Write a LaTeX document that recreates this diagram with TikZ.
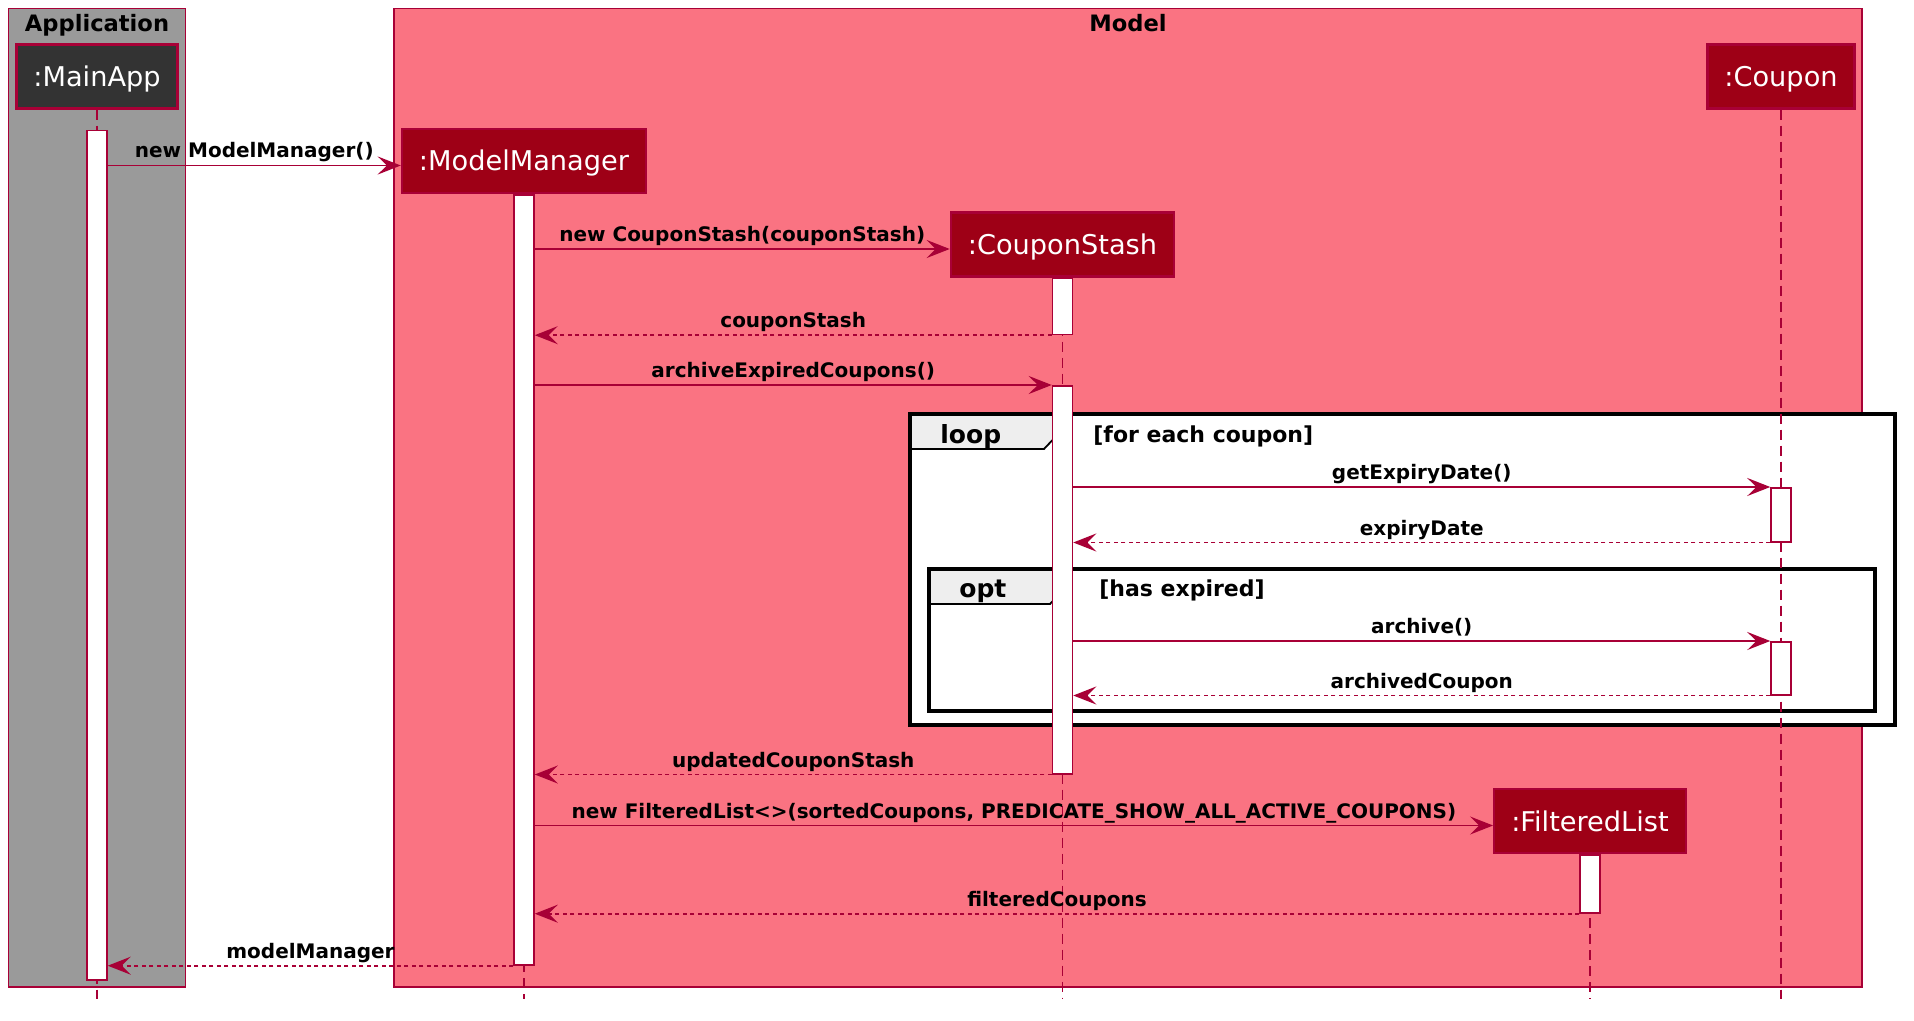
\documentclass[tikz,border=0pt]{standalone}
\usepackage{fontspec}
\setmainfont{DejaVu Sans}
\usetikzlibrary{arrows.meta,positioning}
\definecolor{crimson}{HTML}{A80036}
\definecolor{headred}{HTML}{9E0016}
\definecolor{modelpink}{HTML}{FA7382}
\definecolor{appgrey}{HTML}{9A9A9A}
\definecolor{tabgrey}{HTML}{EEEEEE}
\definecolor{mainhead}{HTML}{333333}

\begin{document}
\begin{tikzpicture}[x=0.5pt,y=-0.5pt,
  head/.style={draw=crimson,fill=headred,text=white,line width=1.2pt,
    font=\fontsize{13.6}{16}\selectfont,text height=1.1em,text depth=0.1em,
    inner xsep=8.5pt,minimum height=32pt},
  bar/.style={draw=crimson,fill=white,line width=0.75pt,minimum width=10pt,inner sep=0pt},
  life/.style={crimson,line width=0.75pt,dash pattern=on 5pt off 3pt},
  msg/.style={crimson,line width=0.9pt,-{Stealth[length=11.5pt,width=9pt,inset=4.5pt]}},
  ret/.style={msg,dash pattern=on 2pt off 1.75pt},
  lbl/.style={text=black,font=\bfseries\fontsize{10}{12}\selectfont,anchor=base,yshift=3.75pt,inner sep=0pt},
  boxttl/.style={font=\bfseries\fontsize{11.3}{13}\selectfont,anchor=base,inner sep=0pt},
  frame/.style={draw=black,line width=1.75pt},
  tab/.style={draw=black,fill=tabgrey,line width=0.9pt},
  grp/.style={font=\bfseries\fontsize{12.5}{15}\selectfont,anchor=base west,inner sep=0pt},
  guard/.style={font=\bfseries\fontsize{11}{13}\selectfont,anchor=base west,inner sep=0pt}]
\useasboundingbox (0,0) rectangle (1914,1021);
\coordinate (bottom) at (0,999);
% Boxes
\draw[crimson,fill=appgrey,line width=0.75pt] (8.5,8.5) rectangle (185.5,987);
\draw[crimson,fill=modelpink,line width=0.75pt] (394,8.5) rectangle (1862,987);
\node[boxttl] (appTtl) at (97,32) {Application};
\node[boxttl] (modelTtl) at (1128,32) {Model};
% Loop frame
\fill[white] (910,414) rectangle (1895,725);
\draw[tab] (910,414) -- (1062,414) -- (1062,430) -- (1044,449) -- (910,449) -- cycle;
\draw[frame] (910,414) rectangle (1895,725);
\node[grp] (loopTxt) at (940,443) {loop};
\node[guard] (loopGuard) at (1093,442) {[for each coupon]};
% Opt frame
\draw[tab] (929,569) -- (1068,569) -- (1068,585) -- (1050,604) -- (929,604) -- cycle;
\draw[frame] (929,569) rectangle (1875,711);
\node[grp] (optTxt) at (959,597) {opt};
\node[guard] (optGuard) at (1099,596) {[has expired]};
% Participants
\node[head,fill=mainhead] (ma) at (97,76.5) {:MainApp};
\node[head] (mm) at (524,161) {:ModelManager};
\node[head] (cs) at (1062.5,244.5) {:CouponStash};
\node[head] (cp) at (1781,76.5) {:Coupon};
\node[head] (fl) at (1590,821) {:FilteredList};
% Lifelines
\draw[life] (ma.south) -- (ma.south |- bottom);
\draw[life] (mm.south) -- (mm.south |- bottom);
\draw[life] (cs.south) -- (cs.south |- bottom);
\draw[life] (cp.south) -- (cp.south |- bottom);
\draw[life] (fl.south) -- (fl.south |- bottom);
% Activations
\node[bar,minimum height=424.5pt,anchor=north] (maBar) at (ma |- 0,130) {};
\node[bar,minimum height=385pt,below=0pt of mm] (mmBar) {};
\node[bar,minimum height=28pt,below=0pt of cs] (csBarA) {};
\node[bar,minimum height=194pt,anchor=north] (csBarB) at (cs |- 0,385) {};
\node[bar,minimum height=27pt,anchor=north] (cpBarA) at (cp |- 0,487) {};
\node[bar,minimum height=26.5pt,anchor=north] (cpBarB) at (cp |- 0,641) {};
\node[bar,minimum height=29pt,below=0pt of fl] (flBar) {};
% Messages
\draw[msg] ([yshift=-2.25pt]maBar.east |- mm.west) -- ([yshift=-2.25pt]mm.west) node[midway,lbl] {new ModelManager()};
\draw[msg] ([yshift=-2.25pt]mmBar.east |- cs.west) -- ([yshift=-2.25pt]cs.west) node[midway,lbl] {new CouponStash(couponStash)};
\draw[ret] (csBarA.south west) -- (mmBar.east |- csBarA.south) node[midway,lbl] {couponStash};
\draw[msg] (mmBar.east |- csBarB.north) -- (csBarB.north west) node[midway,lbl] {archiveExpiredCoupons()};
\draw[msg] (csBarB.east |- cpBarA.north) -- (cpBarA.north west) node[midway,lbl] {getExpiryDate()};
\draw[ret] (cpBarA.south west) -- (csBarB.east |- cpBarA.south) node[midway,lbl] {expiryDate};
\draw[msg] (csBarB.east |- cpBarB.north) -- (cpBarB.north west) node[midway,lbl] {archive()};
\draw[ret] (cpBarB.south west) -- (csBarB.east |- cpBarB.south) node[midway,lbl] {archivedCoupon};
\draw[ret] (csBarB.south west) -- (mmBar.east |- csBarB.south) node[midway,lbl] {updatedCouponStash};
\draw[msg] ([yshift=-2.25pt]mmBar.east |- fl.west) -- ([yshift=-2.25pt]fl.west) node[midway,lbl] {new FilteredList<>(sortedCoupons, PREDICATE\_SHOW\_ALL\_ACTIVE\_COUPONS)};
\draw[ret] (flBar.south west) -- (mmBar.east |- flBar.south) node[midway,lbl] {filteredCoupons};
\draw[ret] (mmBar.south west) -- (maBar.east |- mmBar.south) node[midway,lbl] {modelManager};
\end{tikzpicture}
\end{document}
